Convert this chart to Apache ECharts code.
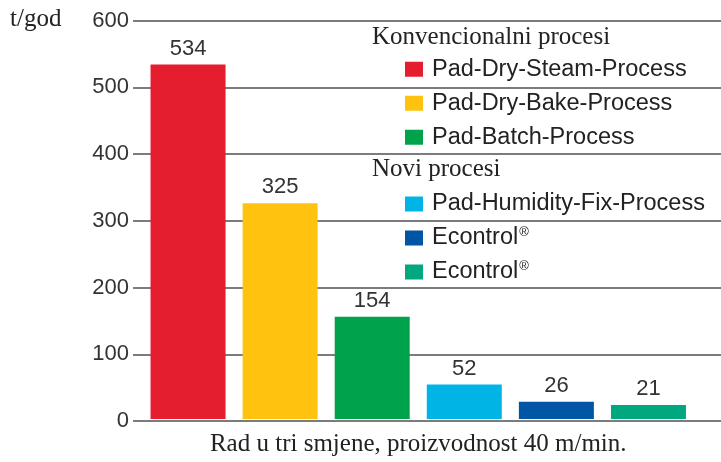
<!DOCTYPE html>
<html>
<head>
<meta charset="utf-8">
<script src="https://cdn.jsdelivr.net/npm/echarts@6/dist/echarts.min.js"></script>
<style>html,body{margin:0;padding:0;background:#fff}#c{width:721px;height:462px}</style>
</head>
<body>
<div id="c"></div>
<script>
const categories = ['Pad-Dry-Steam-Process','Pad-Dry-Bake-Process','Pad-Batch-Process','Pad-Humidity-Fix-Process','Econtrol®','Econtrol® '];
const values = [534, 325, 154, 52, 26, 21];
const colors = ['#e41e2e','#ffc20f','#00a24c','#00b5e5','#0055a5','#00a77f'];
const yTicks = [0, 100, 200, 300, 400, 500, 600];
const groupConv = categories.slice(0, 3);
const groupNew = categories.slice(3);
const yUnit = 't/god';
const headConv = 'Konvencionalni procesi';
const headNew = 'Novi procesi';
const caption = 'Rad u tri smjene, proizvodnost 40 m/min.';

const sans = '"Liberation Sans", Arial, sans-serif';
const serif = '"Liberation Serif", "Times New Roman", serif';
const gridTop = 20.7, gridBottom = 41;

const series = categories.map((name, i) => ({
  name: name,
  type: 'bar',
  stack: 'all',
  xAxisIndex: 1,
  yAxisIndex: 1,
  barWidth: 75,
  itemStyle: { color: colors[i] },
  label: { show: true, position: 'top', distance: 5, fontFamily: sans, fontSize: 22, color: '#333' },
  data: values.map((v, j) => (j === i ? v : null))
}));

const legendFmt = name => name.trim().replace('®', '{sup|®}');
const legendText = {
  fontFamily: sans, fontSize: 23.5, color: '#222', lineHeight: 23.5, padding: [0, 0, 0, 4],
  rich: { sup: { fontFamily: sans, fontSize: 13, padding: [0, 0, 11, 1], color: '#222' } }
};
const serifStyle = { fontFamily: serif, fontSize: 25, fontWeight: 'normal', color: '#222' };

const chart = echarts.init(document.getElementById('c'), null, { renderer: 'canvas' });
chart.setOption({
  animation: false,
  backgroundColor: '#fff',
  title: [
    { text: yUnit, left: 10, top: 7, padding: 0, textStyle: serifStyle },
    { text: headConv, left: 372, top: 25, padding: 0, textStyle: serifStyle },
    { text: headNew, left: 372, top: 157, padding: 0, textStyle: serifStyle }
  ],
  legend: [
    { data: groupConv, orient: 'vertical', left: 405, top: 57.25, padding: 0, itemWidth: 18, itemHeight: 15, itemGap: 10,
      icon: 'rect', formatter: legendFmt, textStyle: legendText, selectedMode: false },
    { data: groupNew, orient: 'vertical', left: 405, top: 192, padding: 0, itemWidth: 18, itemHeight: 15, itemGap: 10,
      icon: 'rect', formatter: legendFmt, textStyle: legendText, selectedMode: false }
  ],
  grid: [
    { left: 133, right: 0, top: gridTop, bottom: gridBottom },
    { left: 142, right: 26.5, top: gridTop, bottom: gridBottom }
  ],
  xAxis: [
    { gridIndex: 0, type: 'value', show: false, min: 0, max: 1 },
    { gridIndex: 1, type: 'category', data: categories,
      axisLine: { show: false }, axisTick: { show: false }, axisLabel: { show: false },
      name: caption, nameLocation: 'middle', nameGap: 13,
      nameTextStyle: Object.assign({}, serifStyle, { verticalAlign: 'top' }) }
  ],
  yAxis: [
    { gridIndex: 0, type: 'value', min: yTicks[0], max: yTicks[yTicks.length - 1], interval: 100,
      axisLine: { show: false }, axisTick: { show: false },
      axisLabel: { fontFamily: sans, fontSize: 22, color: '#333', margin: 4 },
      splitLine: { show: true, lineStyle: { color: '#7c7c7c', width: 2 } } },
    { gridIndex: 1, type: 'value', min: yTicks[0], max: yTicks[yTicks.length - 1], interval: 100, show: false,
      splitLine: { show: false } }
  ],
  series: series
});
</script>
</body>
</html>
